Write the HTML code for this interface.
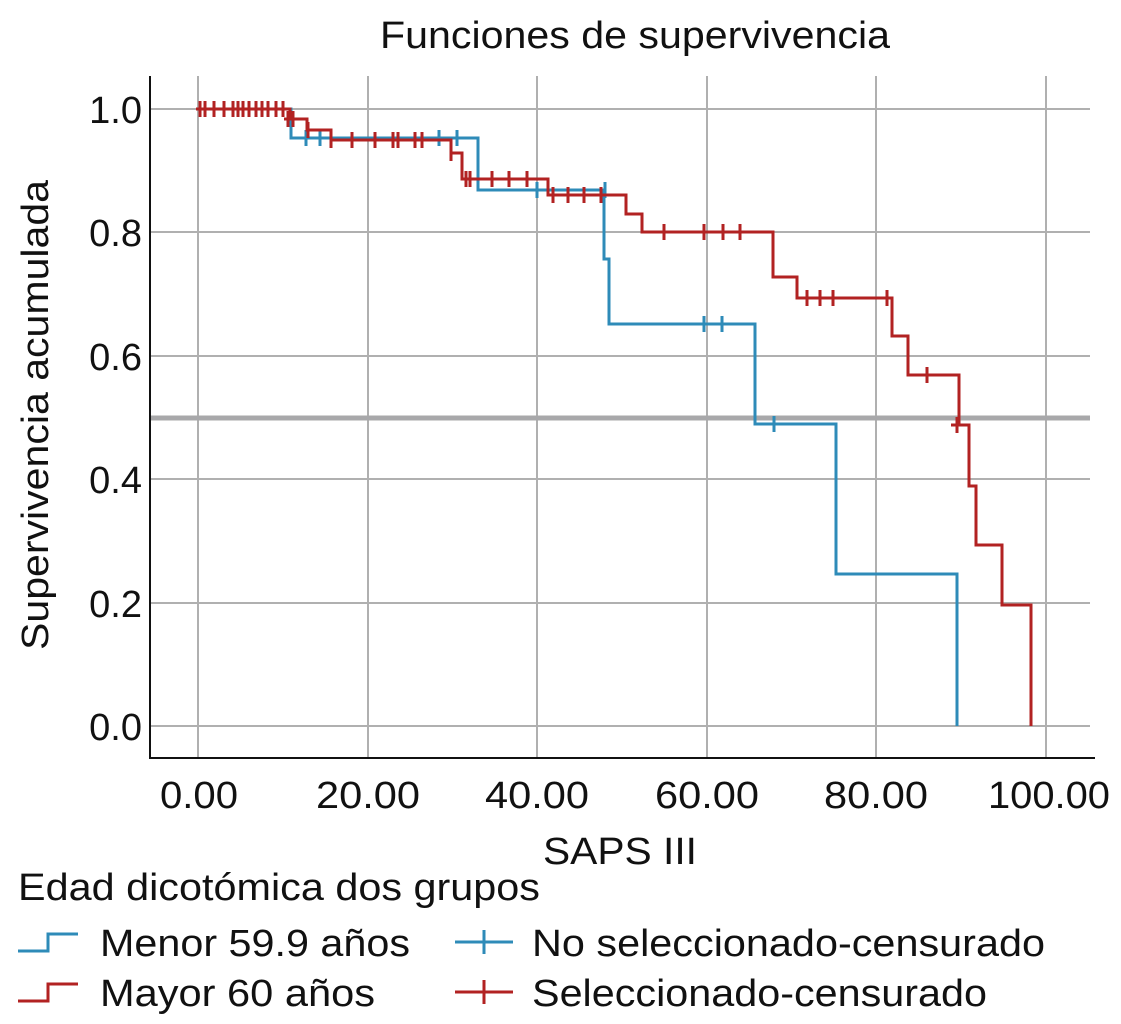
<!DOCTYPE html>
<html><head><meta charset="utf-8"><style>body{margin:0;background:#fff}svg{display:block}text{font-family:"Liberation Sans",Arial,sans-serif;fill:#111}</style></head><body>
<svg width="1121" height="1024" viewBox="0 0 1121 1024">
<g stroke="#b0b0b0" stroke-width="2">
<line x1="198" y1="76" x2="198" y2="758"/><line x1="368" y1="76" x2="368" y2="758"/><line x1="537" y1="76" x2="537" y2="758"/><line x1="707" y1="76" x2="707" y2="758"/><line x1="876" y1="76" x2="876" y2="758"/><line x1="1046" y1="76" x2="1046" y2="758"/>
<line x1="150" y1="109" x2="1090" y2="109"/><line x1="150" y1="232" x2="1090" y2="232"/><line x1="150" y1="356" x2="1090" y2="356"/><line x1="150" y1="479" x2="1090" y2="479"/><line x1="150" y1="603" x2="1090" y2="603"/><line x1="150" y1="726" x2="1090" y2="726"/>
</g>
<line x1="150" y1="418" x2="1090" y2="418" stroke="#a8a8aa" stroke-width="5"/>
<path d="M150 76V758H1095" fill="none" stroke="#111" stroke-width="2"/>
<path d="M196 109H291V138H478V190H604V259H609V324H755V424H836V574H957V726" fill="none" stroke="#2e8bb8" stroke-width="3"/>
<g stroke="#2e8bb8" stroke-width="3"><path d="M224 101v16M306 130v16M320 130v16M439 130v16M457 130v16M537 182v16M605 182v16M704 316v16M722 316v16M774 416v16"/></g>
<path d="M196 109H290V119H307V130H331V140H451V153H462V179H548V195H626V214H642V232H773V277H797V298H892V336H908V375H959V425H969V486H976V545H1002V605H1031V726" fill="none" stroke="#b22222" stroke-width="3"/>
<g stroke="#b22222" stroke-width="3"><path d="M200 101v16M205 101v16M214 101v16M224 101v16M233 101v16M238 101v16M243 101v16M249 101v16M256 101v16M262 101v16M268 101v16M276 101v16M283 101v16M288 111v16M293 111v16M308 122v16M331 132v16M352 132v16M375 132v16M393 132v16M398 132v16M415 132v16M422 132v16M451 145v16M466 171v16M470 171v16M492 171v16M509 171v16M527 171v16M553 187v16M568 187v16M584 187v16M601 187v16M664 224v16M704 224v16M723 224v16M740 224v16M807 290v16M820 290v16M833 290v16M887 290v16M927 367v16M957 417v16M284 119h12M318 130h-10M951 425h12"/></g>
<text x="380" y="48" font-size="38" textLength="510" lengthAdjust="spacingAndGlyphs">Funciones de supervivencia</text>
<g font-size="38" text-anchor="end"><text x="142" y="123">1.0</text><text x="142" y="246">0.8</text><text x="142" y="370">0.6</text><text x="142" y="493">0.4</text><text x="142" y="617">0.2</text><text x="142" y="740">0.0</text></g>
<g font-size="38"><text x="160" y="808" textLength="78" lengthAdjust="spacingAndGlyphs">0.00</text><text x="316" y="808" textLength="104" lengthAdjust="spacingAndGlyphs">20.00</text><text x="485" y="808" textLength="104" lengthAdjust="spacingAndGlyphs">40.00</text><text x="655" y="808" textLength="104" lengthAdjust="spacingAndGlyphs">60.00</text><text x="824" y="808" textLength="104" lengthAdjust="spacingAndGlyphs">80.00</text><text x="988" y="808" textLength="122" lengthAdjust="spacingAndGlyphs">100.00</text></g>
<text x="543" y="864" font-size="38" textLength="154" lengthAdjust="spacingAndGlyphs">SAPS III</text>
<text transform="translate(48 650) rotate(-90)" font-size="38" textLength="470" lengthAdjust="spacingAndGlyphs">Supervivencia acumulada</text>
<text x="18" y="900" font-size="38" textLength="522" lengthAdjust="spacingAndGlyphs">Edad dicotómica dos grupos</text>
<path d="M18 951H48V934H78" fill="none" stroke="#2e8bb8" stroke-width="3"/>
<path d="M18 1001H48V984H78" fill="none" stroke="#b22222" stroke-width="3"/>
<path d="M455 942H513M484 930v24" stroke="#2e8bb8" stroke-width="3"/>
<path d="M455 992H513M484 980v24" stroke="#b22222" stroke-width="3"/>
<g font-size="38"><text x="100" y="956" textLength="310" lengthAdjust="spacingAndGlyphs">Menor 59.9 años</text><text x="100" y="1006" textLength="275" lengthAdjust="spacingAndGlyphs">Mayor 60 años</text><text x="532" y="956" textLength="513" lengthAdjust="spacingAndGlyphs">No seleccionado-censurado</text><text x="532" y="1006" textLength="455" lengthAdjust="spacingAndGlyphs">Seleccionado-censurado</text></g>
</svg></body></html>
